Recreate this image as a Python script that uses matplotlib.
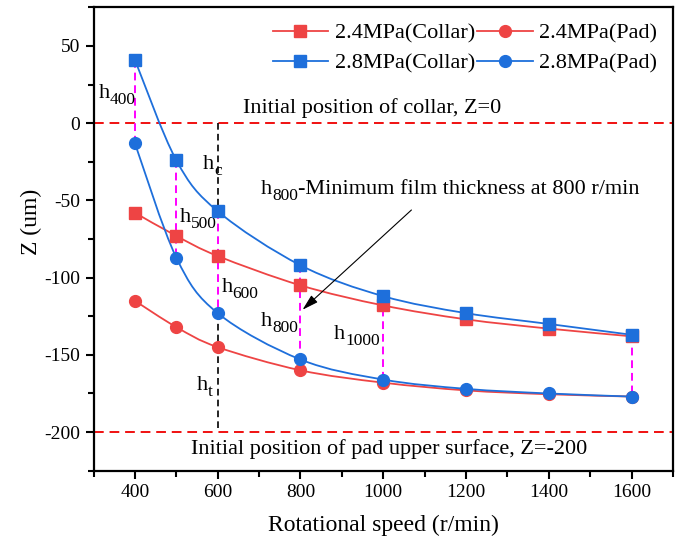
from typing import Final

import matplotlib.pyplot as plt
from matplotlib.axes import Axes
from matplotlib.patches import PathPatch
from matplotlib.path import Path
from matplotlib.ticker import MultipleLocator
from matplotlib.transforms import offset_copy

RED: Final[str] = '#EE4444'
BLUE: Final[str] = '#1E6FDB'
MAGENTA: Final[str] = '#FF00FF'
LINE_RED: Final[str] = '#F01010'

SPEED: Final[list[int]] = [400, 500, 600, 800, 1000, 1200, 1400, 1600]
COLLAR_24: Final[list[float]] = [-58, -73, -86, -105, -118, -127, -133, -138]
PAD_24: Final[list[float]] = [-115, -132, -145, -160, -168, -173, -175.5, -177]
COLLAR_28: Final[list[float]] = [41, -24, -57, -92, -112, -123, -130, -137]
PAD_28: Final[list[float]] = [-13, -87, -123, -153, -166, -172, -175, -177]

# speeds where the film thickness h is marked
H_SPEEDS: Final[list[int]] = [400, 500, 600, 800, 1000, 1600]

plt.rcParams['font.family'] = ['Liberation Serif', 'DejaVu Serif']
plt.rcParams['axes.unicode_minus'] = False

TEXT_FS: Final[float] = 16
SUB_FS: Final[float] = 12.5


def smooth_line(ax: Axes, x: list[float], y: list[float], color: str) -> None:
    # Catmull-Rom style bezier through the points
    verts = [(x[0], y[0])]
    codes = [Path.MOVETO]
    n = len(x)
    for i in range(n - 1):
        x0, y0 = (x[i - 1], y[i - 1]) if i > 0 else (x[i], y[i])
        x3, y3 = (x[i + 2], y[i + 2]) if i + 2 < n else (x[i + 1], y[i + 1])
        c1 = (x[i] + (x[i + 1] - x0) / 6, y[i] + (y[i + 1] - y0) / 6)
        c2 = (x[i + 1] - (x3 - x[i]) / 6, y[i + 1] - (y3 - y[i]) / 6)
        verts += [c1, c2, (x[i + 1], y[i + 1])]
        codes += [Path.CURVE4] * 3
    ax.add_patch(PathPatch(Path(verts, codes), facecolor='none', edgecolor=color, lw=1.3, zorder=3))


def h_label(ax: Axes, x: float, y: float, sub: str, tail: str = '') -> None:
    # 'h' with a large subscript, optional text after it on the same baseline
    fig = ax.figure
    renderer = fig.canvas.get_renderer()
    t = ax.text(x, y, 'h', fontsize=TEXT_FS, va='baseline')
    dx = t.get_window_extent(renderer).width
    s = ax.text(x, y, sub, fontsize=SUB_FS, va='baseline',
                transform=offset_copy(ax.transData, fig, x=dx, y=-6, units='dots'))
    dx += s.get_window_extent(renderer).width
    if tail:
        ax.text(x, y, tail, fontsize=TEXT_FS, va='baseline',
                transform=offset_copy(ax.transData, fig, x=dx, y=0, units='dots'))


fig = plt.figure(figsize=(6.85, 5.49), dpi=100)
ax: Axes = fig.add_axes((0.1365, 0.1426, 0.846, 0.8441))

ax.set_xlim(300, 1700)
ax.set_ylim(-225, 75)

series = [(COLLAR_24, RED, 's', '2.4MPa(Collar)'),
          (COLLAR_28, BLUE, 's', '2.8MPa(Collar)'),
          (PAD_24, RED, 'o', '2.4MPa(Pad)'),
          (PAD_28, BLUE, 'o', '2.8MPa(Pad)')]
for vals, col, mk, name in series:
    smooth_line(ax, SPEED, vals, col)
    ax.plot(SPEED, vals, ls='none', marker=mk, ms=8.5, color=col, zorder=4 + (col == BLUE))
    ax.plot([], [], color=col, marker=mk, ms=8.5, lw=1.3, label=name)

# reference positions
ax.axhline(0, color=LINE_RED, ls=(0, (5, 3)), lw=1.4, zorder=2)
ax.axhline(-200, color=LINE_RED, ls=(0, (5, 3)), lw=1.4, zorder=2)

collar = dict(zip(SPEED, COLLAR_28))
pad = dict(zip(SPEED, PAD_28))
for s in H_SPEEDS:
    ax.plot([s, s], [collar[s], pad[s]], color=MAGENTA, ls=(0, (4, 2.5)), lw=1.4, zorder=2)
ax.plot([600, 600], [0, collar[600]], color='black', ls=(0, (4, 2.5)), lw=1.2, zorder=2)
ax.plot([600, 600], [pad[600], -200], color='black', ls=(0, (4, 2.5)), lw=1.2, zorder=2)

h_label(ax, 312, 16, '400')
h_label(ax, 565, -30, 'c')
h_label(ax, 508, -64, '500')
h_label(ax, 609, -109, '600')
h_label(ax, 705, -131, '800')
h_label(ax, 881, -140, '1000')
h_label(ax, 549, -173, 't')
h_label(ax, 705, -46, '800', '-Minimum film thickness at 800 r/min')
ax.text(972, 10, 'Initial position of collar, Z=0', fontsize=TEXT_FS, ha='center', va='center')
ax.text(1013, -211, 'Initial position of pad upper surface, Z=-200', fontsize=TEXT_FS,
        ha='center', va='center')
ax.annotate('', xy=(800, -122), xytext=(1073, -55),
            arrowprops=dict(arrowstyle='-|>,head_width=0.2,head_length=0.7', color='black',
                            lw=0.8, mutation_scale=14))

ax.xaxis.set_major_locator(MultipleLocator(200))
ax.xaxis.set_minor_locator(MultipleLocator(100))
ax.yaxis.set_major_locator(MultipleLocator(50))
ax.yaxis.set_minor_locator(MultipleLocator(25))
ax.tick_params(which='both', direction='out', width=1.5, labelsize=14, top=False, right=False)
ax.tick_params(which='major', length=6)
ax.tick_params(which='minor', length=4)
for sp in ax.spines.values():
    sp.set_linewidth(1.6)

ax.set_xlabel('Rotational speed (r/min)', fontsize=17, labelpad=10)
ax.set_ylabel('Z (um)', fontsize=17)
ax.yaxis.set_label_coords(-0.088, 0.537)

ax.legend(loc='upper right', ncol=2, frameon=False, fontsize=16, handlelength=2.5,
          handletextpad=0.3, columnspacing=0.1, borderaxespad=0.3, labelspacing=0.42)

fig.savefig('out.png', dpi=100)
